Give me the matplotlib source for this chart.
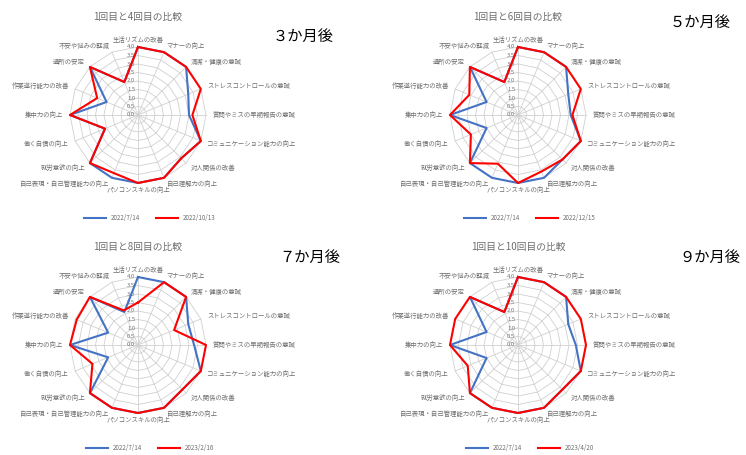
import matplotlib.pyplot as plt
import numpy as np

plt.rcParams['font.family'] = ['Noto Sans CJK JP', 'DejaVu Sans']

# 16 items of the self-check sheet (clockwise from top)
categories = [
    '生活リズムの改善', 'マナーの向上', '清潔・健康の意識', 'ストレスコントロールの意識',
    '質問やミスの早期報告の意識', 'コミュニケーション能力の向上', '対人関係の改善', '自己理解力の向上',
    'パソコンスキルの向上', '自己表現・自己管理能力の向上', '就労意欲の向上', '働く自信の向上',
    '集中力の向上', '作業遂行能力の改善', '通所の安定', '不安や悩みの軽減',
]
scale_ticks = [0.0, 0.5, 1.0, 1.5, 2.0, 2.5, 3.0, 3.5, 4.0]

titles = ['1回目と4回目の比較', '1回目と6回目の比較', '1回目と8回目の比較', '1回目と10回目の比較']
periods = ['３か月後', '５か月後', '７か月後', '９か月後']
first_dates = ['2022/7/14', '2022/7/14', '2022/7/14', '2022/7/14']
later_dates = ['2022/10/13', '2022/12/15', '2023/2/16', '2023/4/20']

first_vals = [
    [4.0, 4.0, 4.0, 3.2, 3.0, 4.0, 3.6, 4.0, 4.0, 4.0, 4.0, 2.1, 4.0, 2.0, 4.0, 2.1],
    [4.0, 4.0, 4.0, 3.2, 3.1, 4.0, 3.7, 4.0, 4.0, 4.0, 4.0, 2.0, 4.0, 2.0, 4.0, 2.1],
    [4.0, 4.0, 4.0, 3.2, 3.3, 4.0, 3.7, 4.0, 4.0, 4.0, 4.0, 1.9, 4.0, 1.9, 4.0, 2.1],
    [4.0, 4.0, 4.0, 3.2, 3.4, 4.0, 3.7, 4.0, 4.0, 4.0, 4.0, 2.0, 4.0, 2.0, 4.0, 2.1],
]
later_vals = [
    [4.0, 4.0, 4.0, 4.0, 3.2, 4.0, 3.6, 4.0, 4.0, 3.7, 4.0, 2.1, 4.0, 2.6, 4.0, 2.1],
    [4.0, 4.0, 4.0, 4.0, 3.2, 4.0, 3.7, 3.6, 4.0, 3.1, 4.0, 3.0, 4.0, 3.1, 4.0, 2.1],
    [2.5, 4.0, 4.0, 2.3, 4.0, 4.0, 3.7, 4.0, 4.0, 4.0, 4.0, 2.9, 4.0, 3.9, 4.0, 2.2],
    [4.0, 4.0, 4.0, 4.0, 4.0, 4.0, 3.7, 4.0, 4.0, 4.0, 4.0, 3.2, 4.0, 4.0, 4.0, 2.1],
]

W, H = 746, 455
fig = plt.figure(figsize=(W / 100, H / 100), dpi=100)

GRID = '#d0d0d0'
TXT = '#6e6e6e'
BLUE = '#4472C4'
RED = '#FF0000'

# pixel layout of each panel: radar centre, period label position
centres = [(138, 115), (518, 115), (138, 345), (518, 345)]
period_pos = [(303, 36), (700, 22), (310, 257), (710, 257)]
R = 68

n = len(categories)
theta = np.arange(n) * 2 * np.pi / n
theta_c = np.append(theta, theta[0])

for i in range(4):
    cx, cy = centres[i]
    ax = fig.add_axes([(cx - R) / W, 1 - (cy + R) / H, 2 * R / W, 2 * R / H], projection='polar')
    ax.set_theta_zero_location('N')
    ax.set_theta_direction(-1)
    ax.set_ylim(0, 4)
    ax.axis('off')

    for r in scale_ticks[1:]:
        ax.plot(theta_c, [r] * (n + 1), color=GRID, lw=0.6, clip_on=False, zorder=1)
    for t in theta:
        ax.plot([t, t], [0, 4], color=GRID, lw=0.6, clip_on=False, zorder=1)

    for r in scale_ticks:
        ax.annotate(f'{r:.1f}', xy=(0, r), xytext=(-2, 0), textcoords='offset points',
                    ha='right', va='center', fontsize=4.2, color=TXT)

    b = first_vals[i] + first_vals[i][:1]
    rd = later_vals[i] + later_vals[i][:1]
    ax.plot(theta_c, b, color=BLUE, lw=1.5, clip_on=False, zorder=3, label=first_dates[i])
    ax.plot(theta_c, rd, color=RED, lw=1.5, clip_on=False, zorder=4, label=later_dates[i])

    for t, name in zip(theta, categories):
        s, c = np.sin(t), np.cos(t)
        ha = 'center' if abs(s) < 0.1 else ('left' if s > 0 else 'right')
        ax.annotate(name, xy=(t, 4), xytext=(5 * s, 5 * c), textcoords='offset points',
                    ha=ha, va='center', fontsize=4.6, color=TXT)

    fig.text(cx / W, 1 - 17 / H - (cy - 115) / H, titles[i], ha='center', va='center',
             fontsize=7, color=TXT)
    px, py = period_pos[i]
    fig.text(px / W, 1 - py / H, periods[i], ha='center', va='center', fontsize=11, color='black')

    ax.legend(loc='center', bbox_to_anchor=((cx + 12) / W, 1 - (cy + 103) / H),
              bbox_transform=fig.transFigure, ncol=2, frameon=False, fontsize=4.5,
              handlelength=3.5, columnspacing=2.5, labelcolor=TXT)

fig.savefig('out.png', dpi=100)
